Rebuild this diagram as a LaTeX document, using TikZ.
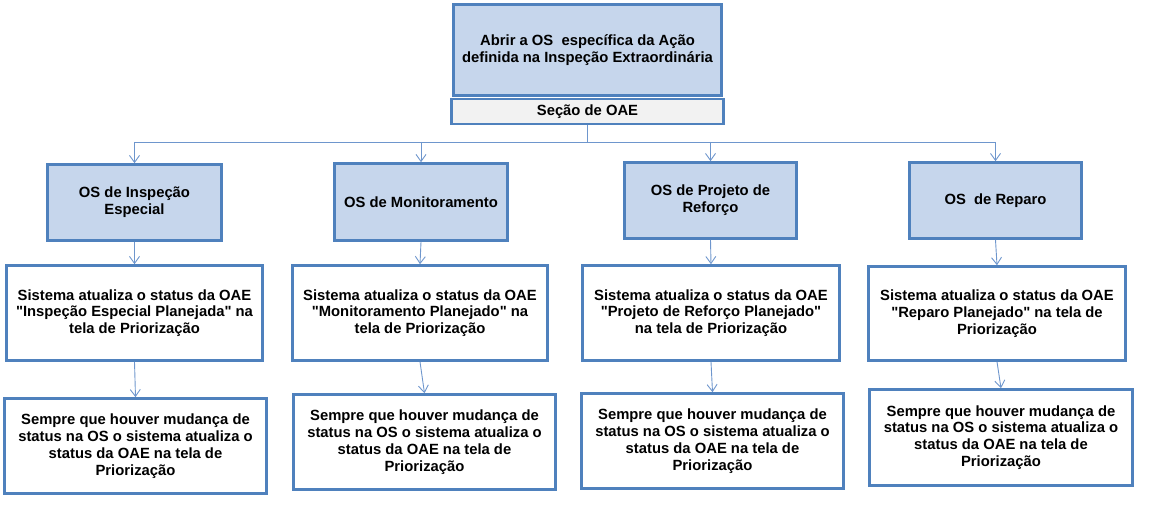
\documentclass[tikz,border=0pt]{standalone}
\usepackage{fontspec}
\setmainfont{Liberation Sans}[Ligatures=TeXOff]
\usetikzlibrary{arrows.meta}
\definecolor{bord}{RGB}{79,129,189}
\definecolor{bfill}{RGB}{198,214,236}
\definecolor{gfill}{RGB}{242,242,242}
\definecolor{conn}{RGB}{110,150,205}
\begin{document}
\begin{tikzpicture}[x=1pt,y=-1pt,
  box/.style={draw=bord,line width=2.6pt,font=\bfseries\fontsize{14.8}{16.8}\selectfont,align=center,inner sep=0pt},
  bluebox/.style={box,fill=bfill},
  whitebox/.style={box,fill=white},
  greybox/.style={box,fill=gfill},
  arr/.style={draw=conn,line width=0.9pt,-{Straight Barb[length=7pt,width=10pt,line width=0.9pt]}},
  ln/.style={draw=conn,line width=0.9pt}]
\useasboundingbox (0,0) rectangle (1160,516);
% top
\node[bluebox,minimum width=268pt,minimum height=91pt] (top) at (587.5,50) {Abrir a OS~ específica da Ação\\definida na Inspeção Extraordinária};
\node[greybox,minimum width=272pt,minimum height=25pt] (sec) at (587.5,111.5) {Seção de OAE};
% level 1
\node[bluebox,minimum width=174pt,minimum height=76pt] (la) at (134.5,202.5) {OS de Inspeção\\Especial};
\node[bluebox,minimum width=173pt,minimum height=77pt] (lb) at (421,202) {OS de Monitoramento};
\node[bluebox,minimum width=172pt,minimum height=76pt] (lc) at (710.5,200.5) {OS de Projeto de\\Reforço};
\node[bluebox,minimum width=172pt,minimum height=76pt] (ld) at (995.5,200.5) {OS~ de Reparo};
% level 2
\node[whitebox,minimum width=256pt,minimum height=95pt] (ma) at (134.5,313) {Sistema atualiza o status da OAE\\"Inspeção Especial Planejada" na\\tela de Priorização};
\node[whitebox,minimum width=255pt,minimum height=95pt] (mb) at (420,313) {Sistema atualiza o status da OAE\\"Monitoramento Planejado" na\\tela de Priorização};
\node[whitebox,minimum width=257pt,minimum height=95pt] (mc) at (711,313) {Sistema atualiza o status da OAE\\"Projeto de Reforço Planejado"\\na tela de Priorização};
\node[whitebox,minimum width=257pt,minimum height=94pt] (md) at (997,313.5) {Sistema atualiza o status da OAE\\"Reparo Planejado" na tela de\\Priorização};
% level 3
\node[whitebox,minimum width=262pt,minimum height=95pt] (na) at (135.5,446) {Sempre que houver mudança de\\status na OS o sistema atualiza o\\status da OAE na tela de\\Priorização};
\node[whitebox,minimum width=262pt,minimum height=95pt] (nb) at (424.5,442) {Sempre que houver mudança de\\status na OS o sistema atualiza o\\status da OAE na tela de\\Priorização};
\node[whitebox,minimum width=262pt,minimum height=95pt] (nc) at (712.5,441) {Sempre que houver mudança de\\status na OS o sistema atualiza o\\status da OAE na tela de\\Priorização};
\node[whitebox,minimum width=263pt,minimum height=96pt] (nd) at (1001,437.5) {Sempre que houver mudança de\\status na OS o sistema atualiza o\\status da OAE na tela de\\Priorização};
% connectors
\coordinate (j) at (587.5,142);
\draw[ln] (sec.south) -- (j);
\draw[ln] (la.north |- j) -- (ld.north |- j);
\foreach \n in {la,lb,lc,ld} \draw[arr] (\n.north |- j) -- (\n.north);
\draw[arr] (la.south) -- (ma.north);
\draw[arr] (lb.south) -- (mb.north);
\draw[arr] (lc.south) -- (mc.north);
\draw[arr] (ld.south) -- (md.north);
\draw[arr] (ma.south) -- (na.north);
\draw[arr] (mb.south) -- (nb.north);
\draw[arr] (mc.south) -- (nc.north);
\draw[arr] (md.south) -- (nd.north);
\end{tikzpicture}
\end{document}
